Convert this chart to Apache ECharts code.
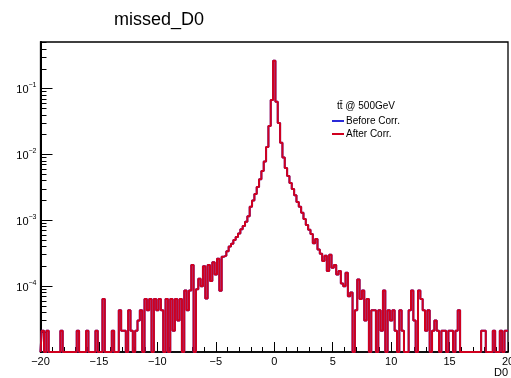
<!DOCTYPE html>
<html>
<head>
<meta charset="utf-8">
<script src="https://cdn.jsdelivr.net/npm/echarts@6/dist/echarts.min.js"></script>
<style>
html,body{margin:0;padding:0;background:#fff;}
#chart{width:511px;height:378px;}
</style>
</head>
<body>
<div id="chart"></div>
<script>
// Histogram binning (bin centres from -20 to 20, width 0.2)
const binStart = -20;
const binWidth = 0.2;

// Normalised bin contents (0 = empty bin)
const beforeCorr = [
  0, 2.1e-5, 0, 2.1e-5, 0, 0, 0, 0, 0, 2.1e-5,
  0, 0, 0, 0, 0, 0, 2.1e-5, 0, 0, 0,
  2.1e-5, 0, 0, 0, 2.1e-5, 0, 0, 6.4e-5, 0, 0,
  0, 2.1e-5, 0, 0, 4.3e-5, 2.1e-5, 2.1e-5, 0, 4.3e-5, 2.1e-5,
  0, 2.1e-5, 3.0e-5, 4.3e-5, 0, 6.4e-5, 4.3e-5, 6.4e-5, 0, 6.4e-5,
  4.3e-5, 6.4e-5, 4.3e-5, 0, 6.4e-5, 0, 6.4e-5, 2.1e-5, 6.4e-5, 3.0e-5,
  6.4e-5, 0, 8.6e-5, 4.3e-5, 8.6e-5, 2.1e-4, 0, 9.0e-5, 1.3e-4, 1.0e-4,
  2.0e-4, 6.5e-5, 2.1e-4, 1.2e-4, 2.3e-4, 1.5e-4, 2.6e-4, 8.5e-5, 2.8e-4, 2.9e-4,
  3.4e-4, 4.0e-4, 4.4e-4, 5.0e-4, 5.6e-4, 6.3e-4, 7.3e-4, 8.2e-4, 9.5e-4, 1.15e-3,
  1.6e-3, 2.0e-3, 2.5e-3, 3.2e-3, 4.2e-3, 5.6e-3, 7.8e-3, 0.013, 0.027, 0.067,
  0.265, 0.063, 0.030, 0.015, 0.0090, 0.0062, 0.0047, 0.0037, 0.0030, 0.0024,
  0.0019, 0.0016, 0.0013, 1.05e-3, 8.5e-4, 7.2e-4, 6.2e-4, 4.5e-4, 5.2e-4, 3.6e-4,
  3.1e-4, 2.4e-4, 2.9e-4, 1.7e-4, 3.0e-4, 1.9e-4, 2.1e-4, 1.5e-4, 1.7e-4, 1.1e-4,
  1.0e-4, 1.6e-4, 7.0e-5, 8.0e-5, 0, 4.3e-5, 1.26e-4, 6.4e-5, 8.6e-5, 3.0e-5,
  6.4e-5, 0, 4.3e-5, 4.3e-5, 0, 4.3e-5, 2.1e-5, 8.6e-5, 0, 4.3e-5,
  3.0e-5, 4.3e-5, 2.1e-5, 0, 4.3e-5, 2.1e-5, 0, 0, 4.3e-5, 8.6e-5,
  3.0e-5, 0, 8.6e-5, 6.4e-5, 4.3e-5, 2.1e-5, 4.3e-5, 0, 2.1e-5, 3.0e-5,
  2.1e-5, 0, 2.1e-5, 2.1e-5, 0, 2.1e-5, 2.1e-5, 0, 2.1e-5, 4.3e-5,
  0, 0, 0, 0, 0, 0, 0, 0, 0, 2.1e-5,
  2.1e-5, 0, 0, 0, 2.1e-5, 0, 0, 2.1e-5, 0, 2.1e-5,
  2.1e-5
];
// After correction: indistinguishable from "before" in the picture
const afterCorr = [
  0, 2.1e-5, 0, 2.1e-5, 0, 0, 0, 0, 0, 2.1e-5,
  0, 0, 0, 0, 0, 0, 2.1e-5, 0, 0, 0,
  2.1e-5, 0, 0, 0, 2.1e-5, 0, 0, 6.4e-5, 0, 0,
  0, 2.1e-5, 0, 0, 4.3e-5, 2.1e-5, 2.1e-5, 0, 4.3e-5, 2.1e-5,
  0, 2.1e-5, 3.0e-5, 4.3e-5, 0, 6.4e-5, 4.3e-5, 6.4e-5, 0, 6.4e-5,
  4.3e-5, 6.4e-5, 4.3e-5, 0, 6.4e-5, 0, 6.4e-5, 2.1e-5, 6.4e-5, 3.0e-5,
  6.4e-5, 0, 8.6e-5, 4.3e-5, 8.6e-5, 2.1e-4, 0, 9.0e-5, 1.3e-4, 1.0e-4,
  2.0e-4, 6.5e-5, 2.1e-4, 1.2e-4, 2.3e-4, 1.5e-4, 2.6e-4, 8.5e-5, 2.8e-4, 2.9e-4,
  3.4e-4, 4.0e-4, 4.4e-4, 5.0e-4, 5.6e-4, 6.3e-4, 7.3e-4, 8.2e-4, 9.5e-4, 1.15e-3,
  1.6e-3, 2.0e-3, 2.5e-3, 3.2e-3, 4.2e-3, 5.6e-3, 7.8e-3, 0.013, 0.027, 0.067,
  0.265, 0.063, 0.030, 0.015, 0.0090, 0.0062, 0.0047, 0.0037, 0.0030, 0.0024,
  0.0019, 0.0016, 0.0013, 1.05e-3, 8.5e-4, 7.2e-4, 6.2e-4, 4.5e-4, 5.2e-4, 3.6e-4,
  3.1e-4, 2.4e-4, 2.9e-4, 1.7e-4, 3.0e-4, 1.9e-4, 2.1e-4, 1.5e-4, 1.7e-4, 1.1e-4,
  1.0e-4, 1.6e-4, 7.0e-5, 8.0e-5, 0, 4.3e-5, 1.26e-4, 6.4e-5, 8.6e-5, 3.0e-5,
  6.4e-5, 0, 4.3e-5, 4.3e-5, 0, 4.3e-5, 2.1e-5, 8.6e-5, 0, 4.3e-5,
  3.0e-5, 4.3e-5, 2.1e-5, 0, 4.3e-5, 2.1e-5, 0, 0, 4.3e-5, 8.6e-5,
  3.0e-5, 0, 8.6e-5, 6.4e-5, 4.3e-5, 2.1e-5, 4.3e-5, 0, 2.1e-5, 3.0e-5,
  2.1e-5, 0, 2.1e-5, 2.1e-5, 0, 2.1e-5, 2.1e-5, 0, 2.1e-5, 4.3e-5,
  0, 0, 0, 0, 0, 0, 0, 0, 0, 2.1e-5,
  2.1e-5, 0, 0, 0, 2.1e-5, 0, 0, 2.1e-5, 0, 2.1e-5,
  2.1e-5
];

const seriesNames = ['Before Corr.', 'After Corr.'];
const yMajorTicks = [1e-4, 1e-3, 1e-2, 1e-1];
const yMajorLabels = ['−4', '−3', '−2', '−1'];
const yMinorTicks = [
  2e-5,3e-5,4e-5,5e-5,6e-5,7e-5,8e-5,9e-5,
  2e-4,3e-4,4e-4,5e-4,6e-4,7e-4,8e-4,9e-4,
  2e-3,3e-3,4e-3,5e-3,6e-3,7e-3,8e-3,9e-3,
  2e-2,3e-2,4e-2,5e-2,6e-2,7e-2,8e-2,9e-2,
  0.2,0.3,0.4,0.5
];
const xMin = -20, xMax = 20, xStep = 5;
const yMin = 1e-5, yMax = 0.51;

function toPoints(vals) {
  return vals.map((v, i) => [binStart + i * binWidth, v > 0 ? v : yMin]);
}

const FONT = '"Liberation Sans", Arial, Helvetica, sans-serif';
const chart = echarts.init(document.getElementById('chart'), null, {renderer: 'canvas'});

chart.setOption({
  animation: false,
  backgroundColor: '#fff',
  textStyle: {fontFamily: FONT},
  title: [
    {text: 'missed_D0', left: 109, top: 6,
     textStyle: {fontSize: 18, fontWeight: 'normal', color: '#000', fontFamily: FONT}},
    {text: 't\u0074\u0304 @ 500GeV', left: 332, top: 96,
     textStyle: {fontSize: 10, fontWeight: 'normal', color: '#000', fontFamily: FONT}}
  ],
  legend: {
    data: seriesNames,
    orient: 'vertical',
    left: 327, top: 111,
    itemWidth: 12, itemHeight: 2, itemGap: 3,
    icon: 'rect',
    textStyle: {fontSize: 10, color: '#000', fontFamily: FONT, padding: [0,0,0,-3]}
  },
  grid: {
    left: 40.5, right: 3, top: 42, bottom: 26,
    show: true, borderColor: '#000', borderWidth: 1.3,
    outerBoundsMode: 'none', containLabel: false
  },
  xAxis: {
    type: 'value', min: xMin, max: xMax, interval: xStep,
    name: 'D0', nameLocation: 'end', nameGap: 0,
    nameTextStyle: {fontSize: 11, color: '#000', align: 'right', verticalAlign: 'top', padding: [15, 0, 0, 0]},
    axisLine: {show: true, onZero: false, lineStyle: {color: '#000', width: 1.5}},
    axisTick: {show: true, inside: true, length: 10, lineStyle: {color: '#000', width: 1}},
    minorTick: {show: true, splitNumber: 5, length: 5, lineStyle: {color: '#000', width: 1}},
    axisLabel: {fontSize: 11, color: '#000', margin: 4,
      formatter: v => (v < 0 ? '−' + Math.abs(v) : String(v))},
    splitLine: {show: false}
  },
  yAxis: [
    {
      type: 'log', min: yMin, max: yMax, logBase: 10, position: 'left',
      axisLine: {show: true, onZero: false, lineStyle: {color: '#000', width: 2}},
      axisTick: {show: true, inside: true, length: 12, customValues: yMajorTicks,
                 lineStyle: {color: '#000', width: 1}},
      axisLabel: {
        customValues: yMajorTicks, margin: 4, color: '#000',
        formatter: v => {
          const k = yMajorTicks.findIndex(t => Math.abs(t - v) / t < 1e-6);
          return '{b|10}{s|' + (k >= 0 ? yMajorLabels[k] : '') + '}';
        },
        rich: {
          b: {fontSize: 11, color: '#000', lineHeight: 14, verticalAlign: 'bottom', fontFamily: FONT},
          s: {fontSize: 7, color: '#000', lineHeight: 8, verticalAlign: 'top', fontFamily: FONT}
        }
      },
      splitLine: {show: false}
    },
    {
      type: 'log', min: yMin, max: yMax, logBase: 10, position: 'left',
      axisLine: {show: false, onZero: false},
      axisTick: {show: true, inside: true, length: 6, customValues: yMinorTicks,
                 lineStyle: {color: '#000', width: 1}},
      axisLabel: {show: false},
      splitLine: {show: false}
    }
  ],
  series: [
    {
      name: seriesNames[0], type: 'line', step: 'middle', showSymbol: false, symbol: 'none',
      data: toPoints(beforeCorr), clip: true, yAxisIndex: 0,
      lineStyle: {color: '#2a2ad8', width: 2}, itemStyle: {color: '#2a2ad8'}
    },
    {
      name: seriesNames[1], type: 'line', step: 'middle', showSymbol: false, symbol: 'none',
      data: toPoints(afterCorr), clip: true, yAxisIndex: 0,
      lineStyle: {color: '#d0001e', width: 2}, itemStyle: {color: '#d0001e'}
    }
  ]
});
</script>
</body>
</html>
